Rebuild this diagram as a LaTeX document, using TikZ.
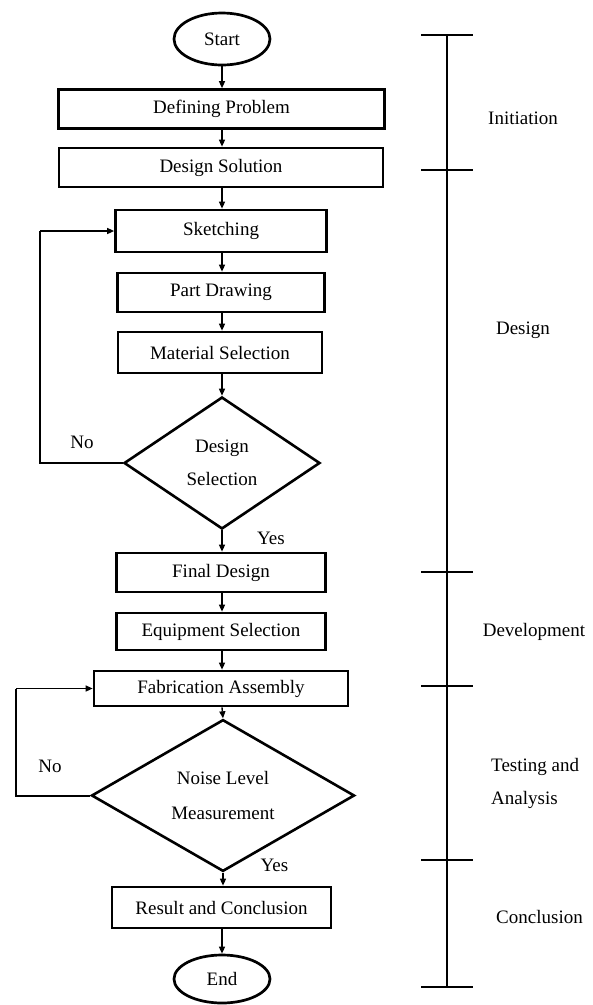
\documentclass[tikz,border=0pt]{standalone}
\usepackage{fontspec}
\setmainfont{Liberation Serif}
\usetikzlibrary{shapes.geometric,arrows.meta}

\tikzset{
  lbl/.style={font=\fontsize{19}{21}\selectfont, inner sep=0pt},
  stepbox/.style={draw, line width=2.7pt, minimum height=39pt, inner sep=0pt, font=\fontsize{19}{21}\selectfont},
  term/.style={draw, ellipse, line width=2.7pt, minimum width=96pt, minimum height=52pt, inner sep=0pt, font=\fontsize{19}{21}\selectfont},
  decide/.style={draw, diamond, line width=2.6pt, inner sep=0pt, align=center, font=\fontsize{19}{33}\selectfont},
  flow/.style={line width=1.4pt, -{Triangle[length=7pt,width=6pt]}},
  loopline/.style={line width=2pt},
  bar/.style={line width=2.8pt},
}

\begin{document}
\begin{tikzpicture}[x=1pt,y=-1pt]
\useasboundingbox (0,0) rectangle (593,1005);

% process steps
\node[term] (start) at (222,39) {Start};
\node[stepbox, minimum width=326pt] (dp) at (221.5,109) {Defining Problem};
\node[stepbox, minimum width=324pt] (ds) at (221,167.5) {Design Solution};
\node[stepbox, minimum width=211pt, minimum height=42pt] (sk) at (221,231) {Sketching};
\node[stepbox, minimum width=207pt] (pd) at (221,292.5) {Part Drawing};
\node[stepbox, minimum width=204pt, minimum height=41pt] (ms) at (220,352.5) {Material Selection};
\node[decide, minimum width=196pt, minimum height=132pt] (dsel) at (222,463) {Design\\Selection};
\node[stepbox, minimum width=209pt] (fd) at (221,572.5) {Final Design};
\node[stepbox, minimum width=209pt, minimum height=37pt] (es) at (221,631.5) {Equipment Selection};
\node[stepbox, minimum width=254pt, minimum height=35pt] (fa) at (221,688.5) {Fabrication Assembly};
\node[decide, minimum width=263pt, minimum height=133pt, font=\fontsize{19}{35}\selectfont] (nlm) at (223,795.5) {Noise Level\\Measurement};
\node[stepbox, minimum width=219pt, minimum height=41pt] (rc) at (221.5,907.5) {Result and Conclusion};
\node[term, minimum height=48pt] (end) at (222,979) {End};

% main flow
\draw[flow] (start.south) -- (start.south |- dp.north);
\draw[flow] (start.south |- dp.south) -- (start.south |- ds.north);
\draw[flow] (start.south |- ds.south) -- (start.south |- sk.north);
\draw[flow] (start.south |- sk.south) -- (start.south |- pd.north);
\draw[flow] (start.south |- pd.south) -- (start.south |- ms.north);
\draw[flow] (start.south |- ms.south) -- (dsel.north);
\draw[flow] (dsel.south) -- (dsel.south |- fd.north);
\draw[flow] (start.south |- fd.south) -- (start.south |- es.north);
\draw[flow] (start.south |- es.south) -- (start.south |- fa.north);
\draw[flow] (start.south |- fa.south) -- (nlm.north);
\draw[flow] (nlm.south) -- (nlm.south |- rc.north);
\draw[flow] (start.south |- rc.south) -- (end.north);

% rework loops
\coordinate (l1) at (40,0);
\coordinate (l2) at (16,0);
\draw[loopline] (dsel.west) -- (l1 |- dsel.west) -- (l1 |- sk.west);
\draw[flow] (l1 |- sk.west) -- (sk.west);
\draw[loopline] (nlm.west) -- (l2 |- nlm.west) -- (l2 |- fa.west);
\draw[flow] (l2 |- fa.west) -- (fa.west);

% decision labels
\node[lbl] (no1) at (82,442) {No};
\node[lbl] (yes1) at (271,538) {Yes};
\node[lbl] (no2) at (50,766) {No};
\node[lbl] (yes2) at (274.5,865) {Yes};

% project phases
\coordinate (t0) at (447,35);
\coordinate (t1) at (447,170);
\coordinate (t2) at (447,572);
\coordinate (t3) at (447,686);
\coordinate (t4) at (447,860);
\coordinate (t5) at (447,987);
\draw[bar] (t0) -- (t5);
\foreach \t in {t0,t1,t2,t3,t4,t5}
  \draw[bar] ([xshift=-26pt]\t) -- ([xshift=26pt]\t);

\node[lbl] (ph1) at (523,118) {Initiation};
\node[lbl] (ph2) at (523,330) {Design};
\node[lbl] (ph3) at (534,632) {Development};
\node[lbl, anchor=west] (ph4a) at (491,767) {Testing and};
\node[lbl, anchor=west] (ph4b) at (491,800) {Analysis};
\node[lbl] (ph5) at (539.5,917) {Conclusion};
\end{tikzpicture}
\end{document}
